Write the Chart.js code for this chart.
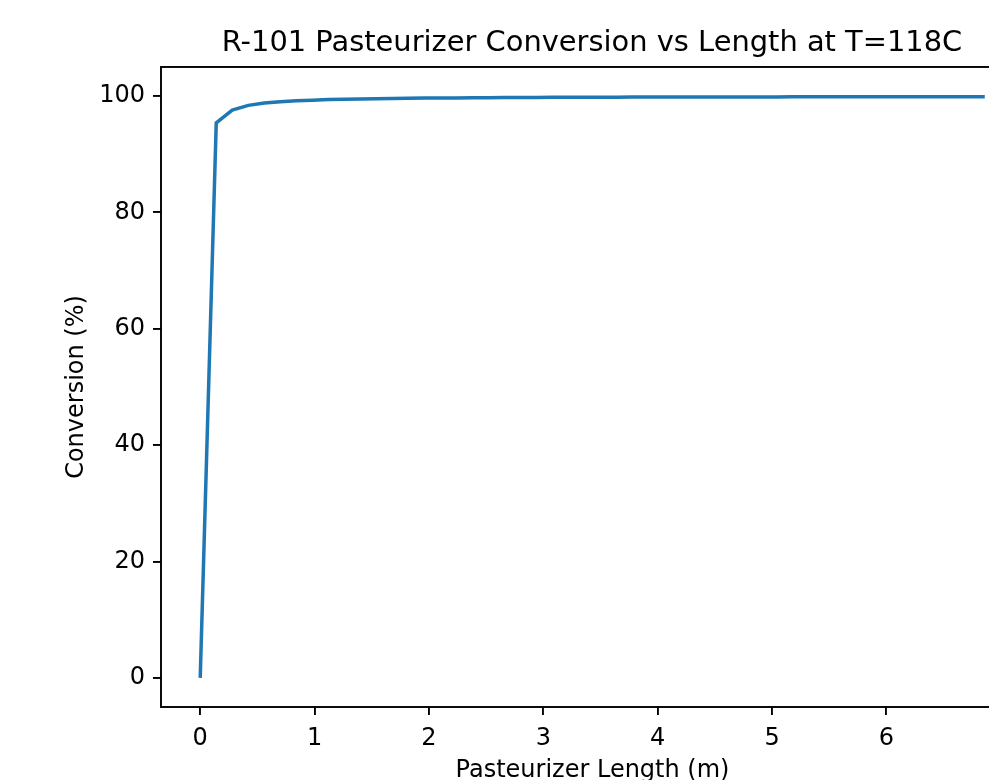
<!DOCTYPE html>
<html lang="en">
<head>
  <meta charset="UTF-8">
  <title>R-101 Pasteurizer Conversion</title>
  <script src="https://cdn.jsdelivr.net/npm/chart.js"></script>
  <style>
    html, body { margin: 0; padding: 0; background: #fff; overflow: hidden; }
    canvas { display: block; }
  </style>
</head>
<body>
  <canvas id="convChart" width="1184" height="800"></canvas>

  <script>
    // pasteurizer length (m) and conversion (%)
    const lengths = [
      0.00, 0.14, 0.28, 0.42, 0.56, 0.70, 0.84, 0.98, 1.12, 1.26,
      1.40, 1.54, 1.68, 1.82, 1.96, 2.10, 2.24, 2.38, 2.52, 2.66,
      2.80, 2.94, 3.08, 3.22, 3.36, 3.50, 3.64, 3.78, 3.92, 4.06,
      4.20, 4.34, 4.48, 4.62, 4.76, 4.90, 5.04, 5.18, 5.32, 5.46,
      5.60, 5.74, 5.88, 6.02, 6.16, 6.30, 6.44, 6.58, 6.72, 6.86
    ];
    const conversion = [
      0.00, 95.4, 97.6, 98.4, 98.8, 99.02, 99.19, 99.30, 99.39, 99.46,
      99.51, 99.55, 99.59, 99.62, 99.65, 99.67, 99.69, 99.71, 99.73, 99.74,
      99.75, 99.77, 99.78, 99.79, 99.79, 99.80, 99.81, 99.82, 99.82, 99.83,
      99.84, 99.84, 99.85, 99.85, 99.86, 99.86, 99.86, 99.87, 99.87, 99.87,
      99.88, 99.88, 99.88, 99.89, 99.89, 99.89, 99.89, 99.90, 99.90, 99.90
    ];
    const xTicks = [0, 1, 2, 3, 4, 5, 6];
    const yTicks = [0, 20, 40, 60, 80, 100];

    const points = lengths.map((x, i) => ({ x: x, y: conversion[i] }));

    // black box round the plot area, like a matplotlib axes frame
    const frame = {
      id: 'frame',
      afterDraw(chart) {
        const { ctx, chartArea: a } = chart;
        ctx.save();
        ctx.strokeStyle = '#000';
        ctx.lineWidth = 1.9;
        ctx.strokeRect(a.left, a.top, a.right - a.left, a.bottom - a.top);
        ctx.restore();
      }
    };

    const tickFont = { family: 'DejaVu Sans', size: 24 };

    new Chart(document.getElementById('convChart'), {
      type: 'line',
      data: {
        datasets: [{
          data: points,
          borderColor: '#1f77b4',
          borderWidth: 3.5,
          pointRadius: 0,
          tension: 0,
          fill: false
        }]
      },
      options: {
        responsive: false,
        animation: false,
        layout: { padding: 0 },
        plugins: {
          legend: { display: false },
          tooltip: { enabled: false },
          title: {
            display: true,
            text: 'R-101 Pasteurizer Conversion vs Length at T=118C',
            color: '#000',
            font: { family: 'DejaVu Sans', size: 28.9, weight: 'normal', lineHeight: 1.2 },
            padding: { top: 26, bottom: 6.3 }
          }
        },
        scales: {
          x: {
            type: 'linear',
            min: -0.343,
            max: 7.203,
            afterBuildTicks: s => { s.ticks = xTicks.map(v => ({ value: v })); },
            afterFit: s => { s.height = 93; },
            border: { display: false },
            grid: { drawOnChartArea: false, drawTicks: true, tickLength: 8, color: '#000', lineWidth: 1.9 },
            ticks: { color: '#000', font: tickFont, padding: 9, maxRotation: 0 },
            title: {
              display: true,
              text: 'Pasteurizer Length (m)',
              color: '#000',
              font: tickFont,
              padding: { top: 0, bottom: 15 }
            }
          },
          y: {
            min: -5,
            max: 105,
            afterBuildTicks: s => { s.ticks = yTicks.map(v => ({ value: v })); },
            afterFit: s => { s.width = 161; },
            border: { display: false },
            grid: { drawOnChartArea: false, drawTicks: true, tickLength: 8, color: '#000', lineWidth: 1.9 },
            ticks: { color: '#000', font: tickFont, padding: 8 },
            title: {
              display: true,
              text: 'Conversion (%)',
              color: '#000',
              font: tickFont,
              padding: { top: 62, bottom: 0 }
            }
          },
          // empty right-hand strip so the plot box ends where the reference's does
          yPad: {
            position: 'right',
            min: -5,
            max: 105,
            afterFit: s => { s.width = 160; },
            border: { display: false },
            grid: { display: false },
            ticks: { display: false }
          }
        }
      },
      plugins: [frame]
    });
  </script>
</body>
</html>
